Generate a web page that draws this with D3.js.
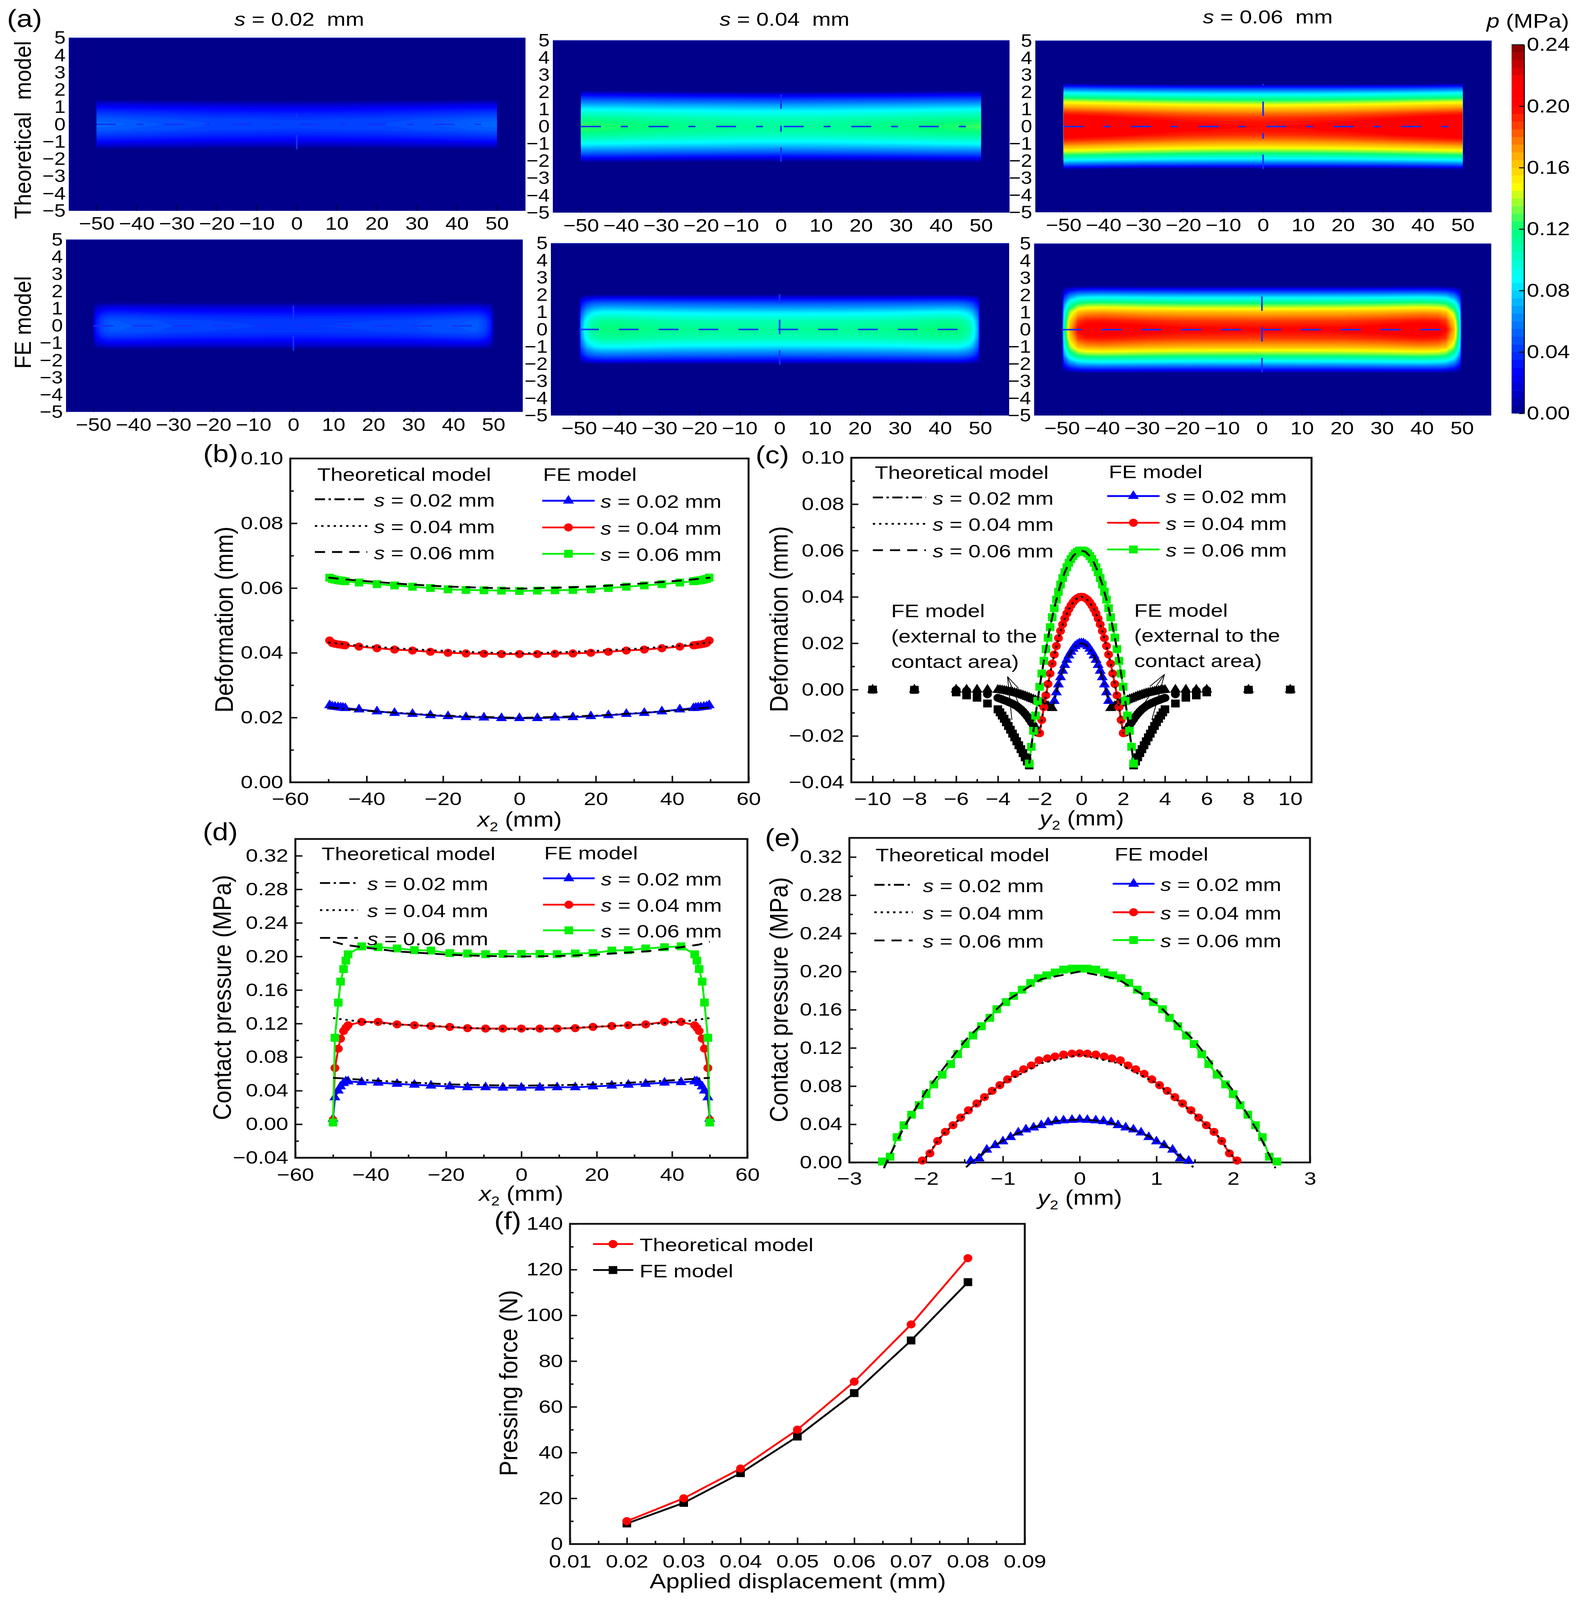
<!DOCTYPE html>
<html>
<head>
<meta charset="utf-8">
<script src="https://cdn.jsdelivr.net/npm/d3@7"></script>
<style>
  html, body { margin: 0; padding: 0; background: #fff; overflow: hidden; }
  svg { display: block; width: 100vw; height: 100vh; }
  text { font-family: "Liberation Sans", Arial, sans-serif; fill: #000; }
</style>
</head>
<body>
<!-- the drawing is laid out in the reference's 4039x4432 pixels, the viewBox fits it to the window -->
<svg id="fig" viewBox="0 0 4039 4432" preserveAspectRatio="none"></svg>
<script>
// ---------- data (half profiles, the figure is symmetric about 0) ----------

// (a) pressure fields, one quadrant each: rows = |y|, columns = |x|, MPa
const fieldXT = [0, 10, 20, 30, 40, 45, 50, 50.01];
const fieldXF = [0, 20, 30, 40, 44, 46, 47, 48, 48.6, 49.5, 50, 50.5];

const fieldYT02 = [0, 0.3, 0.6, 0.9, 1.2, 1.35, 1.45];
const fieldT02 = [
  [.046, .046, .047, .049, .052, .054, .055, 0],
  [.0435, .044, .045, .047, .049, .051, .052, 0],
  [.037, .0375, .038, .040, .042, .043, .044, 0],
  [.0275, .028, .029, .030, .032, .033, .034, 0],
  [.0135, .014, .015, .016, .017, .018, .019, 0],
  [.004, .004, .005, .006, .007, .008, .009, 0],
  [0, 0, 0, 0, 0, 0, 0, 0]
];
const fieldYT04 = [0, 0.25, 0.5, 0.75, 1, 1.25, 1.5, 1.75, 1.95, 2.05, 2.1];
const fieldT04 = [
  [.113, .114, .116, .119, .123, .125, .129, 0],
  [.111, .112, .114, .117, .120, .122, .123, 0],
  [.104, .105, .107, .109, .112, .113, .114, 0],
  [.095, .095, .097, .099, .101, .102, .103, 0],
  [.083, .083, .085, .086, .088, .089, .090, 0],
  [.068, .069, .070, .071, .073, .073, .074, 0],
  [.050, .051, .052, .053, .055, .055, .056, 0],
  [.030, .031, .032, .033, .035, .035, .036, 0],
  [.012, .012, .013, .014, .016, .016, .017, 0],
  [.002, .002, .003, .004, .006, .006, .007, 0],
  [0, 0, 0, 0, 0, 0, 0, 0]
];
const fieldYT06 = [0, 0.25, 0.5, 0.75, 1, 1.25, 1.5, 1.75, 2, 2.2, 2.35, 2.45, 2.55];
const fieldT06 = [
  [.200, .201, .203, .207, .212, .214, .2175, 0],
  [.198, .199, .201, .205, .210, .212, .215, 0],
  [.192, .193, .195, .199, .204, .206, .208, 0],
  [.181, .182, .184, .188, .193, .195, .197, 0],
  [.167, .168, .170, .173, .177, .179, .181, 0],
  [.149, .150, .152, .155, .159, .161, .163, 0],
  [.127, .128, .130, .133, .137, .139, .141, 0],
  [.102, .103, .104, .107, .110, .112, .114, 0],
  [.075, .075, .076, .078, .081, .083, .085, 0],
  [.048, .048, .049, .050, .053, .055, .057, 0],
  [.025, .025, .026, .027, .030, .031, .033, 0],
  [.004, .004, .004, .005, .006, .012, .014, 0],
  [0, 0, 0, 0, 0, 0, 0, 0]
];
const fieldYF02 = [0, 0.3, 0.6, 0.9, 1.2, 1.35, 1.45];
const fieldF02 = [
  [.0435, .045, .047, .050, .051, .051, .049, .045, .040, .032, .0065, 0],
  [.0425, .044, .046, .049, .050, .050, .048, .044, .039, .031, .006, 0],
  [.0366, .0375, .039, .042, .043, .043, .041, .038, .034, .027, .005, 0],
  [.0265, .027, .028, .030, .031, .031, .030, .027, .024, .019, .004, 0],
  [.013, .013, .014, .015, .015, .015, .014, .013, .011, .009, .002, 0],
  [.002, .002, .002, .003, .003, .003, .002, .002, .002, .001, 0, 0],
  [0, 0, 0, 0, 0, 0, 0, 0, 0, 0, 0, 0]
];
const fieldYF04 = [0, 0.5, 1, 1.5, 1.8, 2, 2.1];
const fieldF04 = [
  [.114, .116, .118, .122, .122, .118, .111, .102, .090, .067, .004, 0],
  [.107, .108, .110, .114, .114, .110, .104, .095, .084, .063, .004, 0],
  [.084, .085, .087, .090, .090, .087, .082, .075, .066, .049, .003, 0],
  [.052, .053, .054, .056, .056, .054, .051, .046, .041, .030, .002, 0],
  [.028, .029, .030, .031, .031, .029, .027, .024, .020, .014, .001, 0],
  [.005, .005, .005, .006, .006, .005, .004, .003, .002, .001, 0, 0],
  [0, 0, 0, 0, 0, 0, 0, 0, 0, 0, 0, 0]
];
const fieldYF06 = [0, 0.5, 1, 1.5, 2, 2.3, 2.5, 2.6];
const fieldF06 = [
  [.203, .204, .2075, .2115, .210, .2025, .185, .170, .145, .103, .002, 0],
  [.190, .191, .194, .198, .197, .190, .174, .160, .137, .097, .002, 0],
  [.167, .168, .170, .174, .172, .166, .152, .139, .119, .085, .002, 0],
  [.125, .126, .128, .131, .129, .124, .114, .104, .089, .063, .001, 0],
  [.072, .073, .074, .076, .074, .071, .064, .058, .049, .033, .001, 0],
  [.035, .035, .036, .037, .036, .034, .030, .026, .021, .013, 0, 0],
  [.006, .006, .006, .007, .006, .005, .004, .003, .002, .001, 0, 0],
  [0, 0, 0, 0, 0, 0, 0, 0, 0, 0, 0, 0]
];
const slitHalf = [1.45, 2.05, 2.48]; // half length of the marker line at x = 0, per s
const jetValues = [0, .027, .064, .088, .12, .148, .17, .19, .2, .216, .24];
const jetColors = ["#00008b", "#0000ff", "#0090ff", "#00ffff", "#00ff78", "#ffff00", "#ffa500", "#ff3000", "#ff0000", "#ff0000", "#800000"];
const fieldXTicks = [-50, -40, -30, -20, -10, 0, 10, 20, 30, 40, 50];
const fieldYTicks = [-5, -4, -3, -2, -1, 0, 1, 2, 3, 4, 5];
const barTicks = [0, .04, .08, .12, .16, .2, .24];
const sLabels = ["0.02", "0.04", "0.06"];

// (b) deformation along x2
const bFeX = [0, 4.7, 9.3, 14, 18.7, 23.3, 28, 32.7, 37.3, 42, 45.6, 46.2, 46.8, 47.5, 48.3, 49, 49.7];
const bFe02 = [.0198, .0198, .0200, .0201, .0204, .0207, .0211, .0214, .0219, .0225, .0229, .0230, .0231, .0232, .0233, .0234, .0238];
const bFe04 = [.0396, .0396, .0397, .0398, .0400, .0403, .0407, .0410, .0414, .0419, .0423, .0424, .0425, .0426, .0428, .0430, .0438];
const bFe06 = [.0591, .0592, .0593, .0594, .0596, .0600, .0604, .0608, .0612, .0617, .0621, .0622, .0623, .0624, .0626, .0628, .0632];
const bThX = [0, 10, 20, 30, 40, 45, 50];
const bTh02 = [.0199, .0202, .0206, .0213, .0221, .0226, .0232];
const bTh04 = [.0398, .0401, .0406, .0412, .0420, .0425, .0432];
const bTh06 = [.0598, .0601, .0605, .0612, .0621, .0626, .0632];

// (c) deformation along y2
const cFeX = [0, .1, .2, .3, .4, .5, .6, .7, .8, .9, 1, 1.1, 1.2, 1.3, 1.4, 1.5, 1.6, 1.7, 1.8, 1.9, 2, 2.1, 2.2, 2.3, 2.4, 2.5];
const cFe02 = [.0200, .0199, .0194, .0187, .0176, .0163, .0147, .0128, .0106, .0081, .0053, .0022, -.0012, -.0049];
const cFe04 = [.0400, .0399, .0394, .0387, .0376, .0363, .0347, .0328, .0306, .0281, .0253, .0222, .0188, .0151, .0112, .0069, .0024, -.0025, -.0076, -.0131, -.0188];
const cFe06 = [.0600, .0599, .0594, .0587, .0576, .0563, .0547, .0528, .0506, .0481, .0453, .0422, .0388, .0351, .0312, .0269, .0224, .0175, .0124, .0069, .0012, -.0049, -.0112, -.0178, -.0247, -.0319];
const cThX = [0, .2, .4, .6, .8, 1, 1.2, 1.4, 1.6, 1.8, 2, 2.2, 2.4, 2.5];
const cTh02 = [.0200, .0194, .0176, .0147, .0106, .0053, -.0012, -.0088];
const cTh04 = [.0400, .0394, .0376, .0347, .0306, .0253, .0188, .0112, .0024, -.0076, -.0188];
const cTh06 = [.0600, .0594, .0576, .0547, .0506, .0453, .0388, .0312, .0224, .0124, .0012, -.0112, -.0247, -.0319];
// FE points outside the contact area (black markers)
const cOutX02 = [1.4, 1.5, 1.6, 1.7, 1.8, 1.9, 2, 2.1, 2.2, 2.3, 2.4, 2.5, 2.6, 2.7, 2.8, 2.9, 3, 3.1, 3.2, 3.3, 3.4, 3.5, 3.6, 3.7, 3.8, 3.9, 4, 4.5, 5, 5.5, 6, 8, 10];
const cOut02 = [-.0080, -.0076, -.0071, -.0067, -.0062, -.0058, -.0054, -.0050, -.0046, -.0042, -.0039, -.0035, -.0032, -.0028, -.0025, -.0022, -.0019, -.0016, -.0014, -.0012, -.0010, -.0008, -.0006, -.0005, -.0003, -.0002, -.0001, 0, 0, 0, 0, 0, 0];
const cOutX04 = [2.1, 2.2, 2.3, 2.4, 2.5, 2.6, 2.7, 2.8, 2.9, 3, 3.1, 3.2, 3.3, 3.4, 3.5, 3.6, 3.7, 3.8, 3.9, 4, 4.5, 5, 5.5, 6, 8, 10];
const cOut04 = [-.0186, -.0170, -.0155, -.0141, -.0128, -.0115, -.0104, -.0094, -.0085, -.0078, -.0071, -.0066, -.0061, -.0057, -.0053, -.0049, -.0046, -.0042, -.0039, -.0036, -.0020, -.0010, -.0005, -.0002, 0, 0];
const cOutX06 = [2.5, 2.6, 2.7, 2.8, 2.9, 3, 3.1, 3.2, 3.3, 3.4, 3.5, 3.6, 3.7, 3.8, 3.9, 4, 4.5, 5, 5.5, 6, 8, 10];
const cOut06 = [-.0327, -.0310, -.0292, -.0274, -.0257, -.0240, -.0223, -.0206, -.0190, -.0173, -.0157, -.0141, -.0126, -.0112, -.0098, -.0085, -.0060, -.0035, -.0025, -.0012, -.0001, 0];
// leader lines of the two annotations, in data units: apex then ends
const cLeadL = [[-3.54, .0056], [-3.02, .0006], [-2.96, -.0071], [-3.33, -.0131]];
const cLeadR = [[3.98, .0066], [3.28, .0014], [2.96, -.0065], [3.37, -.0131]];

// (d) contact pressure along x2
const dFeX = [0, 4.9, 9.5, 14.3, 19, 24, 28.4, 33, 38, 42.4, 46, 46.6, 47.2, 48, 48.6, 49.5, 50];
const dFe02 = [.0435, .0435, .044, .044, .045, .046, .047, .048, .0495, .05, .051, .051, .049, .045, .04, .032, .0065];
const dFe04 = [.114, .114, .114, .1145, .116, .117, .118, .119, .122, .122, .118, .115, .111, .102, .09, .067, .005];
const dFe06 = [.203, .203, .2027, .2035, .204, .207, .2075, .2095, .211, .212, .2025, .195, .185, .17, .145, .103, .002];
const dThX = [0, 10, 19, 33, 42.4, 47, 50];
const dTh02 = [.046, .0465, .0475, .0505, .053, .0545, .0553];
const dTh04 = [.113, .114, .116, .119, .122, .1247, .1265];
const dTh06 = [.2, .2005, .202, .206, .211, .214, .2175];

// (e) contact pressure along y2
const eFeX02 = [0, .1, .21, .31, .41, .5, .6, .7, .8, .9, 1, 1.1, 1.21, 1.31, 1.42];
const eFe02 = [.045, .0445, .044, .0432, .042, .039, .0366, .0345, .0313, .0265, .022, .018, .0133, .0042, .0016];
const eFeX04 = [0, .1, .21, .32, .42, .53, .63, .73, .84, .94, 1.04, 1.14, 1.24, 1.34, 1.45, 1.55, 1.65, 1.75, 1.85, 1.95, 2.05];
const eFe04 = [.1143, .114, .113, .111, .109, .107, .1016, .0976, .0928, .087, .081, .075, .0684, .0618, .0546, .047, .039, .032, .0225, .0095, .002];
const eFeX06 = [0, .1, .21, .32, .43, .54, .64, .75, .86, .96, 1.08, 1.17, 1.28, 1.39, 1.49, 1.59, 1.68, 1.79, 1.9, 2, 2.09, 2.19, 2.29, 2.38, 2.47, 2.57];
const eFe06 = [.203, .203, .202, .199, .196, .193, .188, .181, .1745, .168, .1605, .1515, .1427, .133, .124, .1135, .103, .092, .0817, .0716, .06, .05, .039, .0265, .006, .001];
const eThX02 = [0, .3, .6, .9, 1.2, 1.4, 1.48];
const eTh02 = [.045, .0435, .037, .0275, .0135, .001, -.005];
const eThX04 = [0, .5, 1, 1.5, 1.8, 2.05];
const eTh04 = [.113, .104, .083, .05, .028, 0];
const eThX06 = [0, .5, 1, 1.5, 2, 2.3, 2.5, 2.55];
const eTh06 = [.2, .192, .167, .127, .075, .035, .003, -.006];

// (f) pressing force
const fDisp = [.02, .03, .04, .05, .06, .07, .08];
const fTheory = [10, 20, 33, 50, 71, 96, 125];
const fFe = [9, 18, 31, 47, 66, 89, 114.5];

// axis ticks
const bXMajor = [-60, -40, -20, 0, 20, 40, 60], bXMinor = [-50, -30, -10, 10, 30, 50];
const bYMajor = [0, .02, .04, .06, .08, .1], bYMinor = [.01, .03, .05, .07, .09];
const cXMajor = [-10, -8, -6, -4, -2, 0, 2, 4, 6, 8, 10], cXMinor = [-9, -7, -5, -3, -1, 1, 3, 5, 7, 9];
const cYMajor = [-.04, -.02, 0, .02, .04, .06, .08, .1], cYMinor = [-.03, -.01, .01, .03, .05, .07, .09];
const dYMajor = [-.04, 0, .04, .08, .12, .16, .2, .24, .28, .32], dYMinor = [-.02, .02, .06, .1, .14, .18, .22, .26, .3];
const eXMajor = [-3, -2, -1, 0, 1, 2, 3], eXMinor = [-2.5, -1.5, -.5, .5, 1.5, 2.5];
const eYMajor = [0, .04, .08, .12, .16, .2, .24, .28, .32], eYMinor = [.02, .06, .1, .14, .18, .22, .26, .3];
const fXMajor = [.01, .02, .03, .04, .05, .06, .07, .08, .09], fXMinor = [.015, .025, .035, .045, .055, .065, .075, .085];
const fYMajor = [0, 20, 40, 60, 80, 100, 120, 140], fYMinor = [10, 30, 50, 70, 90, 110, 130];

// ---------- helpers ----------
const svg = d3.select("#fig");
const BLUE = "#0000ff", RED = "#ff0000", GREEN = "#00f000";
const DASH_02 = "26 9 6 9", DASH_04 = "6 10", DASH_06 = "26 18";
const TEXT_SIZE = 50, TEXT_K = 1.12, XLABEL_SIZE = 58, XLABEL_K = 1.08;

// symmetric profile -> points from -x to +x
function mirror(xs, ys) {
  let pts = [];
  for (let i = ys.length - 1; i >= 0; i--) { if (xs[i] !== 0) pts.push({ x: -xs[i], y: ys[i] }); }
  for (let i = 0; i < ys.length; i++) { pts.push({ x: xs[i], y: ys[i] }); }
  return pts;
}

// parts = [[string, "i"|"sub"|""], ...]; k widens the glyphs, the scan is not square
function label(x, y, parts, size, opt) {
  opt = opt || {};
  let t = svg.append("text")
    .attr("transform", `translate(${x},${y})` + (opt.rotate ? " rotate(-90)" : "") + ` scale(${opt.k || 1},1)`)
    .attr("text-anchor", opt.anchor || "start")
    .style("font-size", size + "px")
    .style("white-space", "pre");
  if (typeof parts === "string") parts = [[parts, ""]];
  let afterSub = false;
  parts.forEach(p => {
    let s = t.append("tspan").text(p[0]);
    if (p[1] === "i") s.style("font-style", "italic");
    if (p[1] === "sub") { s.attr("dy", size * 0.22).style("font-size", size * 0.62 + "px"); }
    else if (afterSub) s.attr("dy", -size * 0.22);
    afterSub = p[1] === "sub";
  });
  return t;
}

// d3.axis puts text by x/y/dy, move that into a transform so it can be widened
function widenTicks(g, k) {
  g.selectAll("text").each(function() {
    let t = d3.select(this);
    let x = +t.attr("x") || 0, y = +t.attr("y") || 0;
    t.attr("x", 0).attr("y", 0).attr("transform", `translate(${x},${y}) scale(${k},1)`);
  });
}

function panel(o) {
  let x = d3.scaleLinear().domain(o.xDomain).range([o.box[0], o.box[1]]);
  let y = d3.scaleLinear().domain(o.yDomain).range([o.box[3], o.box[2]]);
  let g = svg.append("g");
  let bottom = o.box[3], left = o.box[0];
  let axX = g.append("g").attr("transform", `translate(0,${bottom})`);
  let axY = g.append("g").attr("transform", `translate(${left},0)`);

  axX.append("g").call(d3.axisBottom(x).tickValues(o.xMinor).tickSize(-9).tickFormat(""));
  axY.append("g").call(d3.axisLeft(y).tickValues(o.yMinor).tickSize(-9).tickFormat(""));
  let mx = axX.append("g").call(d3.axisBottom(x).tickValues(o.xMajor).tickSizeInner(-18).tickSizeOuter(0).tickPadding(o.xPad || 28).tickFormat(o.xFmt || d3.format("d")));
  let my = axY.append("g").call(d3.axisLeft(y).tickValues(o.yMajor).tickSizeInner(-18).tickSizeOuter(0).tickPadding(18).tickFormat(o.yFmt || d3.format(".2f")));
  g.selectAll(".domain").remove();
  g.selectAll("line").attr("stroke", "#111").attr("stroke-width", 4);
  g.selectAll("text").style("font-size", "50px").attr("fill", "#000");
  widenTicks(mx, 1.12);
  widenTicks(my, 1.12);
  svg.append("rect").attr("x", o.box[0]).attr("y", o.box[2])
    .attr("width", o.box[1] - o.box[0]).attr("height", o.box[3] - o.box[2])
    .attr("fill", "none").attr("stroke", "#111").attr("stroke-width", 5);
  return { x, y };
}

function curve(p, pts, color, dash, width) {
  let line = d3.line().x(d => p.x(d.x)).y(d => p.y(d.y));
  svg.append("path").attr("d", line(pts)).attr("fill", "none")
    .attr("stroke", color).attr("stroke-width", width || 5)
    .attr("stroke-dasharray", dash || null);
}

const symbols = {
  tri: d3.symbol().type(d3.symbolTriangle).size(340)(),
  cir: d3.symbol().type(d3.symbolCircle).size(400)(),
  squ: d3.symbol().type(d3.symbolSquare).size(480)()
};

function markers(p, pts, type, color) {
  svg.append("g").selectAll("path").data(pts).enter().append("path")
    .attr("d", symbols[type]).attr("fill", color)
    .attr("transform", d => `translate(${p.x(d.x)},${p.y(d.y)})`);
}

function feSeries(p, pts, type, color) { curve(p, pts, color, null, 5); markers(p, pts, type, color); }

// legend layout: theory and FE columns, each with its own rows
function legend(l) {
  let opt = { k: TEXT_K };
  label(l.thTitle[0], l.thTitle[1], "Theoretical model", TEXT_SIZE, opt);
  label(l.feTitle[0], l.feTitle[1], "FE model", TEXT_SIZE, opt);
  [DASH_02, DASH_04, DASH_06].forEach((dash, i) => {
    svg.append("line").attr("x1", l.thLine[0]).attr("x2", l.thLine[1]).attr("y1", l.thY[i]).attr("y2", l.thY[i])
      .attr("stroke", "#000").attr("stroke-width", 5).attr("stroke-dasharray", dash);
    label(l.thText, l.thY[i] + 20, [["s", "i"], [" = " + sLabels[i] + " mm", ""]], TEXT_SIZE, opt);
  });
  [["tri", BLUE], ["cir", RED], ["squ", GREEN]].forEach((m, i) => {
    svg.append("line").attr("x1", l.feLine[0]).attr("x2", l.feLine[1]).attr("y1", l.feY[i]).attr("y2", l.feY[i])
      .attr("stroke", m[1]).attr("stroke-width", 5);
    svg.append("path").attr("d", symbols[m[0]]).attr("fill", m[1])
      .attr("transform", `translate(${(l.feLine[0] + l.feLine[1]) / 2},${l.feY[i]})`);
    label(l.feText, l.feY[i] + 20, [["s", "i"], [" = " + sLabels[i] + " mm", ""]], TEXT_SIZE, opt);
  });
}

// ---------- (a) heat maps ----------
const jet = d3.scaleLinear().domain(jetValues).range(jetColors).clamp(true);
const levels = d3.range(0.002, 0.24, 0.003);

function heatmap(o) {
  let x = d3.scaleLinear().domain([-50, 50]).range(o.xRange);
  let y = d3.scaleLinear().domain([-5, 5]).range([o.box[3], o.box[2]]);
  let g = svg.append("g");
  g.append("rect").attr("x", o.box[0]).attr("y", o.box[2])
    .attr("width", o.box[1] - o.box[0]).attr("height", o.box[3] - o.box[2]).attr("fill", "#00008b");
  g.append("line").attr("x1", o.box[0]).attr("x2", o.box[1]).attr("y1", o.box[2]).attr("y2", o.box[2])
    .attr("stroke", "#3a4ab8").attr("stroke-width", 2);

  // unfold the quadrant, contour it on the index grid, then map the grid to data units
  let xs = o.xs.slice(1).reverse().map(d => -d).concat(o.xs);
  let ys = o.ys.slice(1).reverse().map(d => -d).concat(o.ys);
  let values = [];
  ys.forEach(yv => {
    let row = o.table[o.ys.indexOf(Math.abs(yv))];
    xs.forEach(xv => values.push(row[o.xs.indexOf(Math.abs(xv))]));
  });
  let xi = d3.scaleLinear().domain(d3.range(xs.length)).range(xs).clamp(true);
  let yi = d3.scaleLinear().domain(d3.range(ys.length)).range(ys).clamp(true);
  let proj = d3.geoTransform({
    point: function(a, b) { this.stream.point(x(xi(a - 0.5)), y(yi(b - 0.5))); }
  });
  let path = d3.geoPath(proj);
  let bands = d3.contours().size([xs.length, ys.length]).thresholds(levels)(values);
  g.append("g").selectAll("path").data(bands).enter().append("path")
    .attr("d", path).attr("fill", d => jet(d.value));

  // measuring lines left on the original plots
  g.append("line").attr("x1", x(-50)).attr("x2", x(o.lineEnd)).attr("y1", y(0)).attr("y2", y(0))
    .attr("stroke", "#1230ff").attr("stroke-width", 4).attr("stroke-dasharray", o.theory ? "51 51 18 53" : "51 51");
  g.append("line").attr("x1", x(0)).attr("x2", x(0)).attr("y1", y(-o.half)).attr("y2", y(o.half))
    .attr("stroke", "#1230ff").attr("stroke-width", 4).attr("stroke-dasharray", o.theory ? "40 44 16 47" : "40 45");

  let ax = g.append("g").attr("transform", `translate(0,${o.box[3]})`)
    .call(d3.axisBottom(x).tickValues(fieldXTicks).tickSizeInner(-15).tickSizeOuter(0).tickPadding(17).tickFormat(d3.format("d")));
  let ay = g.append("g").attr("transform", `translate(${o.box[0]},0)`)
    .call(d3.axisLeft(y).tickValues(fieldYTicks).tickSize(0).tickPadding(8).tickFormat(d3.format("d")));
  g.selectAll(".domain").remove();
  ax.selectAll("line").attr("stroke", "#000050").attr("stroke-width", 3);
  g.selectAll("text").style("font-size", "50px").attr("fill", "#000");
  widenTicks(ax, 1.08);
  widenTicks(ay, 1.04);
}

heatmap({ box: [176, 1345, 105, 584], xRange: [247, 1272], xs: fieldXT, ys: fieldYT02, table: fieldT02, half: slitHalf[0], lineEnd: 47, theory: true });
heatmap({ box: [1415, 2584, 112, 589], xRange: [1487, 2511], xs: fieldXT, ys: fieldYT04, table: fieldT04, half: slitHalf[1], lineEnd: 47, theory: true });
heatmap({ box: [2650, 3818, 113, 588], xRange: [2722, 3744], xs: fieldXT, ys: fieldYT06, table: fieldT06, half: slitHalf[2], lineEnd: 47, theory: true });
heatmap({ box: [169, 1338, 664, 1141], xRange: [239, 1263], xs: fieldXF, ys: fieldYF02, table: fieldF02, half: slitHalf[0], lineEnd: 45 });
heatmap({ box: [1410, 2583, 674, 1151], xRange: [1482, 2509], xs: fieldXF, ys: fieldYF04, table: fieldF04, half: slitHalf[1], lineEnd: 45 });
heatmap({ box: [2647, 3817, 675, 1151], xRange: [2718, 3742], xs: fieldXF, ys: fieldYF06, table: fieldF06, half: slitHalf[2], lineEnd: 45 });

// colour bar
const barY = d3.scaleLinear().domain([0, .24]).range([1145, 124]);
const barStep = 0.005;
svg.append("g").selectAll("rect").data(d3.range(0, .24, barStep)).enter().append("rect")
  .attr("x", 3869).attr("width", 32)
  .attr("y", d => barY(d + barStep)).attr("height", d => barY(d) - barY(d + barStep) + 0.5)
  .attr("fill", d => jet(d + barStep / 2));
let barAxis = svg.append("g").attr("transform", "translate(3901,0)")
  .call(d3.axisRight(barY).tickValues(barTicks).tickSizeInner(-13).tickSizeOuter(0).tickPadding(7).tickFormat(d3.format(".2f")));
barAxis.select(".domain").attr("stroke", "#111").attr("stroke-width", 3);
barAxis.selectAll("line").attr("stroke", "#111").attr("stroke-width", 3);
barAxis.selectAll("text").style("font-size", "52px").attr("fill", "#000");
widenTicks(barAxis, 1.09);
svg.append("line").attr("x1", 3869).attr("x2", 3901).attr("y1", 124).attr("y2", 124).attr("stroke", "#222").attr("stroke-width", 3);

label(18, 75, "(a)", 68, { k: 1.08 });
label(766, 71, [["s", "i"], [" = 0.02  mm", ""]], 53, { k: 1.08, anchor: "middle" });
label(2008, 71, [["s", "i"], [" = 0.04  mm", ""]], 53, { k: 1.08, anchor: "middle" });
label(3245, 65, [["s", "i"], [" = 0.06  mm", ""]], 53, { k: 1.08, anchor: "middle" });
label(3805, 77, [["p", "i"], [" (MPa)", ""]], 54, { k: 1.1 });
label(79, 360, "Theoretical  model", 60, { rotate: true, anchor: "middle" });
label(79, 893, "FE model", 60, { rotate: true, anchor: "middle" });

// ---------- (b) ----------
const pb = panel({ box: [743, 1916, 1270, 2167], xDomain: [-60, 60], yDomain: [0, .1],
  xMajor: bXMajor, xMinor: bXMinor, yMajor: bYMajor, yMinor: bYMinor });
feSeries(pb, mirror(bFeX, bFe02), "tri", BLUE);
feSeries(pb, mirror(bFeX, bFe04), "cir", RED);
feSeries(pb, mirror(bFeX, bFe06), "squ", GREEN);
curve(pb, mirror(bThX, bTh02), "#000", DASH_02);
curve(pb, mirror(bThX, bTh04), "#000", DASH_04);
curve(pb, mirror(bThX, bTh06), "#000", DASH_06);
legend({ thTitle: [812, 1332], feTitle: [1390, 1332], thLine: [806, 940], thText: 957, thY: [1383, 1457, 1529],
  feLine: [1388, 1522], feText: 1537, feY: [1387, 1461, 1534] });
label(520, 1280, "(b)", 68, { k: 1.08 });
label(596, 1716, "Deformation (mm)", 64, { rotate: true, anchor: "middle" });
label(1330, 2290, [["x", "i"], ["2", "sub"], [" (mm)", ""]], XLABEL_SIZE, { k: XLABEL_K, anchor: "middle" });

// ---------- (c) ----------
const pc = panel({ box: [2179, 3357, 1268, 2167], xDomain: [-11.02, 11.02], yDomain: [-.04, .1],
  xMajor: cXMajor, xMinor: cXMinor, yMajor: cYMajor, yMinor: cYMinor });
markers(pc, mirror(cOutX06, cOut06), "squ", "#000");
markers(pc, mirror(cOutX04, cOut04), "cir", "#000");
markers(pc, mirror(cOutX02, cOut02), "tri", "#000");
feSeries(pc, mirror(cFeX, cFe02), "tri", BLUE);
feSeries(pc, mirror(cFeX, cFe04), "cir", RED);
feSeries(pc, mirror(cFeX, cFe06), "squ", GREEN);
curve(pc, mirror(cThX, cTh02), "#000", DASH_02);
curve(pc, mirror(cThX, cTh04), "#000", DASH_04);
curve(pc, mirror(cThX, cTh06), "#000", DASH_06);
[cLeadL, cLeadR].forEach(lead => {
  lead.slice(1).forEach(end => {
    svg.append("line").attr("x1", pc.x(lead[0][0])).attr("y1", pc.y(lead[0][1]))
      .attr("x2", pc.x(end[0])).attr("y2", pc.y(end[1]))
      .attr("stroke", "#000").attr("stroke-width", 2);
  });
});
legend({ thTitle: [2239, 1327], feTitle: [2838, 1324], thLine: [2234, 2370], thText: 2387, thY: [1378, 1451, 1524],
  feLine: [2834, 2968], feText: 2984, feY: [1374, 1448, 1522] });
[[2281, 1710], [2903, 1708]].forEach(a => {
  label(a[0], a[1], "FE model", TEXT_SIZE, { k: TEXT_K });
  label(a[0], a[1] + 70, "(external to the", TEXT_SIZE, { k: TEXT_K });
  label(a[0], a[1] + 140, "contact area)", TEXT_SIZE, { k: TEXT_K });
});
label(1934, 1283, "(c)", 68, { k: 1.08 });
label(2016, 1715, "Deformation (mm)", 64, { rotate: true, anchor: "middle" });
label(2769, 2286, [["y", "i"], ["2", "sub"], [" (mm)", ""]], XLABEL_SIZE, { k: XLABEL_K, anchor: "middle" });

// ---------- (d) ----------
const pd = panel({ box: [756, 1913, 2324, 3207], xDomain: [-60, 60], yDomain: [-.04, .34],
  xMajor: bXMajor, xMinor: bXMinor, yMajor: dYMajor, yMinor: dYMinor });
feSeries(pd, mirror(dFeX, dFe02), "tri", BLUE);
feSeries(pd, mirror(dFeX, dFe04), "cir", RED);
feSeries(pd, mirror(dFeX, dFe06), "squ", GREEN);
curve(pd, mirror(dThX, dTh02), "#000", DASH_02);
curve(pd, mirror(dThX, dTh04), "#000", DASH_04);
curve(pd, mirror(dThX, dTh06), "#000", DASH_06);
legend({ thTitle: [823, 2383], feTitle: [1393, 2381], thLine: [819, 916], thText: 940, thY: [2446, 2521, 2598],
  feLine: [1390, 1522], feText: 1538, feY: [2433, 2506, 2577] });
label(519, 2327, "(d)", 68, { k: 1.08 });
label(591, 2763, "Contact pressure (MPa)", 64, { rotate: true, anchor: "middle" });
label(1334, 3326, [["x", "i"], ["2", "sub"], [" (mm)", ""]], XLABEL_SIZE, { k: XLABEL_K, anchor: "middle" });

// ---------- (e) ----------
const pe = panel({ box: [2174, 3353, 2321, 3220], xDomain: [-3, 3], yDomain: [0, .34],
  xMajor: eXMajor, xMinor: eXMinor, yMajor: eYMajor, yMinor: eYMinor, xPad: 26 });
feSeries(pe, mirror(eFeX02, eFe02), "tri", BLUE);
feSeries(pe, mirror(eFeX04, eFe04), "cir", RED);
feSeries(pe, mirror(eFeX06, eFe06), "squ", GREEN);
curve(pe, mirror(eThX02, eTh02), "#000", DASH_02);
curve(pe, mirror(eThX04, eTh04), "#000", DASH_04);
curve(pe, mirror(eThX06, eTh06), "#000", DASH_06);
legend({ thTitle: [2241, 2386], feTitle: [2853, 2384], thLine: [2238, 2336], thText: 2362, thY: [2451, 2527, 2605],
  feLine: [2848, 2955], feText: 2970, feY: [2448, 2527, 2604] });
label(1958, 2344, "(e)", 68, { k: 1.08 });
label(2016, 2769, "Contact pressure (MPa)", 64, { rotate: true, anchor: "middle" });
label(2764, 3337, [["y", "i"], ["2", "sub"], [" (mm)", ""]], XLABEL_SIZE, { k: XLABEL_K, anchor: "middle" });

// ---------- (f) ----------
const pf = panel({ box: [1459, 2623, 3390, 4277], xDomain: [.01, .09], yDomain: [0, 140],
  xMajor: fXMajor, xMinor: fXMinor, yMajor: fYMajor, yMinor: fYMinor, xPad: 30,
  xFmt: d3.format(".2f"), yFmt: d3.format("d") });
const fPts = ys => fDisp.map((d, i) => ({ x: d, y: ys[i] }));
feSeries(pf, fPts(fFe), "squ", "#000");
feSeries(pf, fPts(fTheory), "cir", RED);
[["cir", RED, 3446, "Theoretical model"], ["squ", "#000", 3518, "FE model"]].forEach(r => {
  svg.append("line").attr("x1", 1518).attr("x2", 1621).attr("y1", r[2]).attr("y2", r[2])
    .attr("stroke", r[1]).attr("stroke-width", 5);
  svg.append("path").attr("d", symbols[r[0]]).attr("fill", r[1])
    .attr("transform", `translate(1569,${r[2]})`);
  label(1637, r[2] + 20, r[3], TEXT_SIZE, { k: TEXT_K });
});
label(1265, 3405, "(f)", 68, { k: 1.08 });
label(1324, 3831, "Pressing force (N)", 64, { rotate: true, anchor: "middle" });
label(2042, 4399, "Applied displacement (mm)", XLABEL_SIZE, { k: XLABEL_K, anchor: "middle" });
</script>
</body>
</html>
